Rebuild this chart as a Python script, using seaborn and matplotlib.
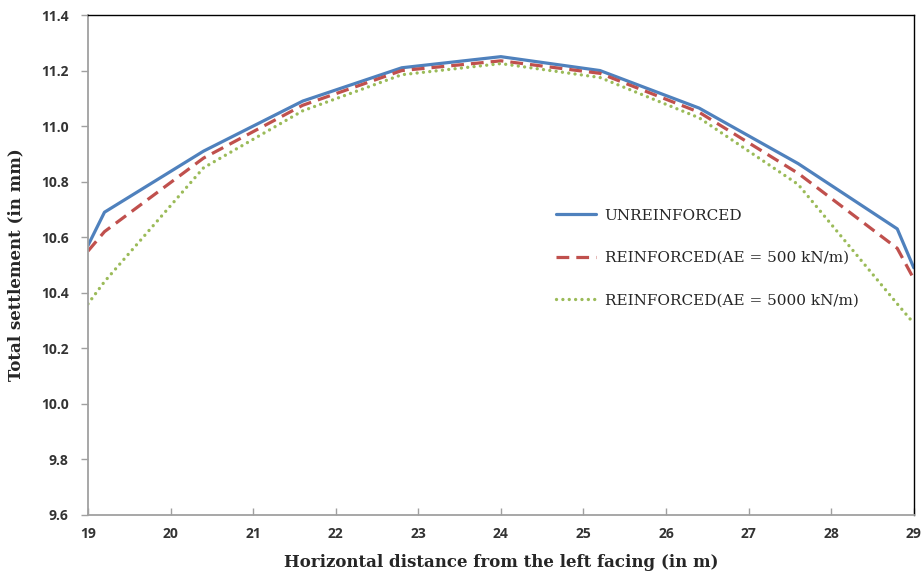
import matplotlib
matplotlib.use("Agg")
import matplotlib.pyplot as plt
import seaborn as sns
import pandas as pd
from matplotlib.lines import Line2D

x_vals = [19, 19.2, 20.4, 21.6, 22.8, 24, 25.2, 26.4, 27.6, 28.8, 29]
unreinforced = [10.57, 10.69, 10.91, 11.09, 11.21, 11.25, 11.20, 11.065, 10.865, 10.63, 10.49]
reinf_500 = [10.55, 10.62, 10.885, 11.075, 11.20, 11.235, 11.19, 11.05, 10.83, 10.56, 10.45]
reinf_5000 = [10.36, 10.44, 10.85, 11.055, 11.185, 11.225, 11.175, 11.03, 10.79, 10.36, 10.29]
series_names = ["UNREINFORCED", "REINFORCED(AE = 500 kN/m)", "REINFORCED(AE = 5000 kN/m)"]
x_ticks = list(range(19, 30))
y_ticks = [9.6, 9.8, 10.0, 10.2, 10.4, 10.6, 10.8, 11.0, 11.2, 11.4]

rows = []
for name, vals in zip(series_names, [unreinforced, reinf_500, reinf_5000]):
    for xv, yv in zip(x_vals, vals):
        rows.append({"x": xv, "y": yv, "series": name})
df = pd.DataFrame(rows)

sns.set_style("white")
fig = plt.figure(figsize=(9.23, 5.77), dpi=100)
ax = fig.add_axes([0.0953, 0.1075, 0.8947, 0.8665])

colors = ["#4F81BD", "#C0504D", "#9BBB59"]
palette = dict(zip(series_names, colors))
dash_red = (4, 2.2)
dash_green = (0.01, 1.9)
dashes = {series_names[0]: "", series_names[1]: dash_red, series_names[2]: dash_green}
sns.lineplot(data=df, x="x", y="y", hue="series", style="series", palette=palette,
             dashes=dashes, linewidth=2.3, ax=ax, legend=False, sort=False)
ax.lines[2].set_linewidth(2.4)
ax.lines[2].set_dash_capstyle("round")

ax.set_xlim(19, 29)
ax.set_ylim(9.6, 11.4)
ax.set_xticks(x_ticks)
ax.set_yticks(y_ticks)
ax.set_xticklabels([str(t) for t in x_ticks])
ax.set_yticklabels([f"{t:.1f}" for t in y_ticks])

for s in ["left", "bottom"]:
    ax.spines[s].set_color("#A0A0A0")
    ax.spines[s].set_linewidth(1.3)
for s in ["top", "right"]:
    ax.spines[s].set_color("black")
    ax.spines[s].set_linewidth(1.0)

ax.tick_params(axis="y", direction="out", length=5, width=1, color="#A0A0A0", left=True, pad=9)
ax.tick_params(axis="x", direction="in", length=5, width=1, color="#A0A0A0", bottom=True, pad=9)
for lab in ax.get_xticklabels() + ax.get_yticklabels():
    lab.set_fontfamily("Open Sans")
    lab.set_fontweight("bold")
    lab.set_fontsize(10)
    lab.set_color("#333333")

ax.set_xlabel("Horizontal distance from the left facing (in m)", fontfamily="DejaVu Serif",
              fontsize=12, fontweight="semibold", labelpad=9)
ax.set_ylabel("Total settlement (in mm)", fontfamily="DejaVu Serif", fontsize=12,
              fontweight="semibold", labelpad=12)

handles = [Line2D([0], [0], color=colors[0], lw=2.3),
           Line2D([0], [0], color=colors[1], lw=2.3, dashes=dash_red),
           Line2D([0], [0], color=colors[2], lw=2.4, dashes=dash_green, dash_capstyle="round")]
ax.legend(handles, series_names, loc="upper left", bbox_to_anchor=(0.55, 0.64),
          frameon=False, handlelength=2.6, handletextpad=0.6, labelspacing=1.85,
          prop={"family": "DejaVu Serif", "size": 11})

fig.savefig("out.png", dpi=100)
